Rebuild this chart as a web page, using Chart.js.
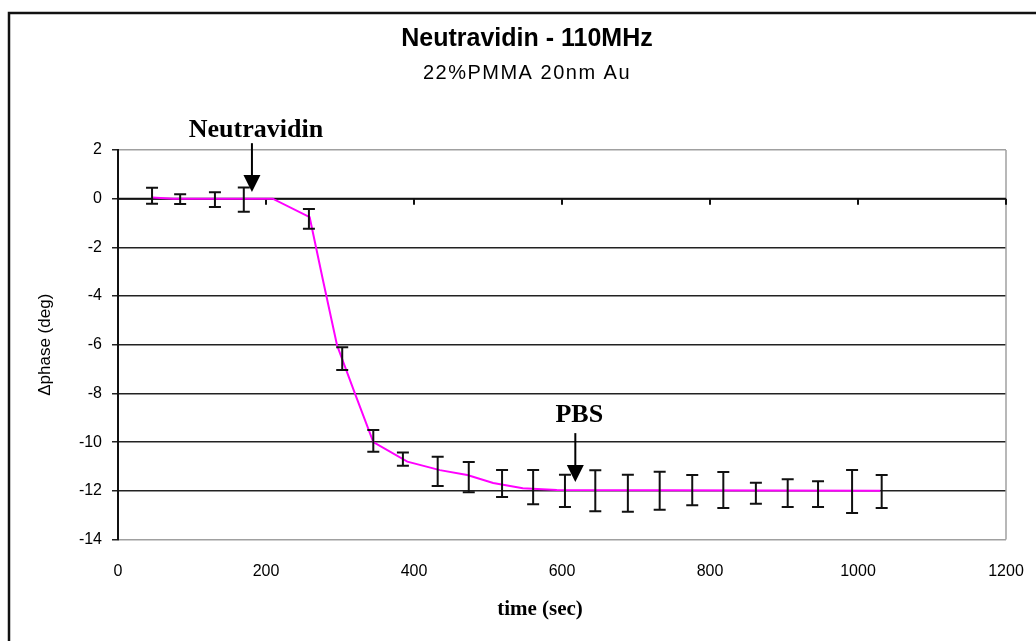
<!DOCTYPE html>
<html lang="en">
<head>
<meta charset="UTF-8">
<title>Neutravidin - 110MHz</title>
<script src="https://cdn.jsdelivr.net/npm/chart.js@4.4.1/dist/chart.umd.min.js"></script>
<style>
    html, body { margin: 0; padding: 0; background: #fff; }
    .chart-box { position: relative; width: 1036px; height: 641px; }
</style>
</head>
<body>
<div class="chart-box"><canvas id="phaseChart"></canvas></div>
<script>
// measured points: time (sec), mean phase shift (deg), error bar half height (deg)
const times  = [46, 84, 131, 170, 258, 303, 345, 385, 432, 474, 519, 561, 604, 645, 689, 732, 776, 818, 862, 905, 946, 992, 1032];
const phase  = [0.12, -0.02, -0.04, -0.04, -0.83, -6.57, -9.95, -10.7, -11.2, -11.44, -11.7, -11.85, -12.0, -12.0, -12.1, -12.0, -11.97, -11.97, -12.1, -12.1, -12.14, -12.03, -12.03];
const errors = [0.33, 0.2, 0.3, 0.5, 0.41, 0.47, 0.45, 0.27, 0.6, 0.62, 0.55, 0.7, 0.66, 0.84, 0.76, 0.78, 0.62, 0.74, 0.43, 0.57, 0.53, 0.88, 0.68];

// magenta curve through the data
const curveTimes = [46, 75, 209, 259, 277, 296, 320, 345, 391, 435, 472, 507, 547, 593, 1030];
const curvePhase = [0.05, 0, 0, -0.76, -3.35, -6.02, -7.99, -10.0, -10.8, -11.15, -11.35, -11.68, -11.89, -11.97, -12.0];

// axis ticks
const xTicks = [0, 200, 400, 600, 800, 1000, 1200];
const yTicks = [2, 0, -2, -4, -6, -8, -10, -12, -14];

// arrows marking injections
const markers = [
    { text: 'Neutravidin', x: 181, labelY: 2.8, fromY: 2.28, toY: 0.27 },
    { text: 'PBS', x: 618, labelY: -8.9, fromY: -9.63, toY: -11.64 }
];

const sans = '"Liberation Sans", Arial, sans-serif';
const serif = '"Liberation Serif", "Times New Roman", serif';

const decorations = {
    id: 'decorations',
    beforeDraw(chart) {
        const ctx = chart.ctx;
        ctx.save();
        // outer chart frame, cut off at right and bottom
        ctx.strokeStyle = '#111';
        ctx.lineWidth = 2.5;
        ctx.beginPath();
        ctx.moveTo(9, chart.height);
        ctx.lineTo(9, 13);
        ctx.lineTo(chart.width, 13);
        ctx.stroke();
        // titles
        ctx.fillStyle = '#000';
        ctx.textAlign = 'center';
        ctx.textBaseline = 'middle';
        ctx.font = 'bold 25px ' + sans;
        ctx.fillText('Neutravidin - 110MHz', 527, 39);
        ctx.font = '20px ' + sans;
        ctx.letterSpacing = '1.5px';
        ctx.fillText('22%PMMA 20nm Au', 527, 73);
        ctx.restore();
    },
    beforeDatasetsDraw(chart) {
        const { ctx, chartArea: a, scales: { x, y } } = chart;
        ctx.save();
        // right edge of plot area
        ctx.strokeStyle = '#a0a0a0';
        ctx.lineWidth = 1.5;
        ctx.beginPath();
        ctx.moveTo(a.right, a.top);
        ctx.lineTo(a.right, a.bottom);
        ctx.stroke();
        // x axis crossing at zero with tick marks
        const y0 = y.getPixelForValue(0);
        ctx.strokeStyle = '#111';
        ctx.lineWidth = 2;
        ctx.beginPath();
        ctx.moveTo(a.left, y0);
        ctx.lineTo(a.right, y0);
        xTicks.forEach(v => {
            const px = x.getPixelForValue(v);
            ctx.moveTo(px, y0);
            ctx.lineTo(px, y0 + 6);
        });
        ctx.stroke();
        ctx.restore();
    },
    afterDatasetsDraw(chart) {
        const { ctx, chartArea: a, scales: { x, y } } = chart;
        ctx.save();
        // error bars
        ctx.strokeStyle = '#111';
        ctx.lineWidth = 2;
        ctx.beginPath();
        times.forEach((t, i) => {
            const px = x.getPixelForValue(t);
            const top = y.getPixelForValue(phase[i] + errors[i]);
            const bot = y.getPixelForValue(phase[i] - errors[i]);
            ctx.moveTo(px, top);
            ctx.lineTo(px, bot);
            ctx.moveTo(px - 6, top);
            ctx.lineTo(px + 6, top);
            ctx.moveTo(px - 6, bot);
            ctx.lineTo(px + 6, bot);
        });
        ctx.stroke();

        // annotation arrows
        ctx.fillStyle = '#000';
        ctx.strokeStyle = '#000';
        ctx.font = 'bold 26px ' + serif;
        ctx.textAlign = 'center';
        ctx.textBaseline = 'middle';
        markers.forEach(m => {
            const px = x.getPixelForValue(m.x);
            const from = y.getPixelForValue(m.fromY);
            const tip = y.getPixelForValue(m.toY);
            ctx.fillText(m.text, px + 4, y.getPixelForValue(m.labelY));
            ctx.lineWidth = 2;
            ctx.beginPath();
            ctx.moveTo(px, from);
            ctx.lineTo(px, tip - 15);
            ctx.stroke();
            ctx.beginPath();
            ctx.moveTo(px - 8.5, tip - 17);
            ctx.lineTo(px + 8.5, tip - 17);
            ctx.lineTo(px, tip);
            ctx.closePath();
            ctx.fill();
        });

        // x axis title
        ctx.font = 'bold 21px ' + serif;
        ctx.fillText('time (sec)', (a.left + a.right) / 2 - 22, 610);
        ctx.restore();
    }
};

new Chart(document.getElementById('phaseChart'), {
    type: 'scatter',
    data: {
        datasets: [{
            label: 'fit',
            data: curveTimes.map((t, i) => ({ x: t, y: curvePhase[i] })),
            showLine: true,
            borderColor: '#ff00ff',
            borderWidth: 2,
            pointRadius: 0,
            tension: 0
        }, {
            label: 'Δphase',
            data: times.map((t, i) => ({ x: t, y: phase[i] })),
            showLine: false,
            pointRadius: 0
        }]
    },
    options: {
        responsive: true,
        maintainAspectRatio: false,
        animation: false,
        layout: { padding: { top: 150, left: 0, right: 30, bottom: 0 } },
        plugins: {
            legend: { display: false },
            tooltip: { enabled: false }
        },
        scales: {
            x: {
                type: 'linear',
                min: 0,
                max: 1200,
                afterBuildTicks: s => { s.ticks = xTicks.map(v => ({ value: v })); },
                afterFit: s => {
                    s.height = 101.5;
                    s.paddingLeft = 0;
                    s.paddingRight = 0;
                },
                grid: { display: false, drawTicks: false },
                border: { display: false },
                ticks: {
                    color: '#000',
                    padding: 22,
                    maxRotation: 0,
                    callback: v => String(v),
                    font: { family: sans, size: 16 }
                }
            },
            y: {
                type: 'linear',
                min: -14,
                max: 2,
                afterBuildTicks: s => { s.ticks = yTicks.map(v => ({ value: v })); },
                afterFit: s => { s.width = 118; },
                grid: {
                    color: c => (c.tick && (c.tick.value === 2 || c.tick.value === -14)) ? '#a0a0a0' : '#222',
                    tickColor: '#222',
                    lineWidth: 1.5,
                    tickLength: 6
                },
                border: { display: true, color: '#111', width: 2 },
                ticks: {
                    color: '#000',
                    padding: 10,
                    callback: v => String(v),
                    font: { family: sans, size: 16 }
                },
                title: {
                    display: true,
                    text: 'Δphase (deg)',
                    color: '#000',
                    font: { family: sans, size: 17 },
                    padding: { top: 35, bottom: 0 }
                }
            }
        }
    },
    plugins: [decorations]
});
</script>
</body>
</html>
